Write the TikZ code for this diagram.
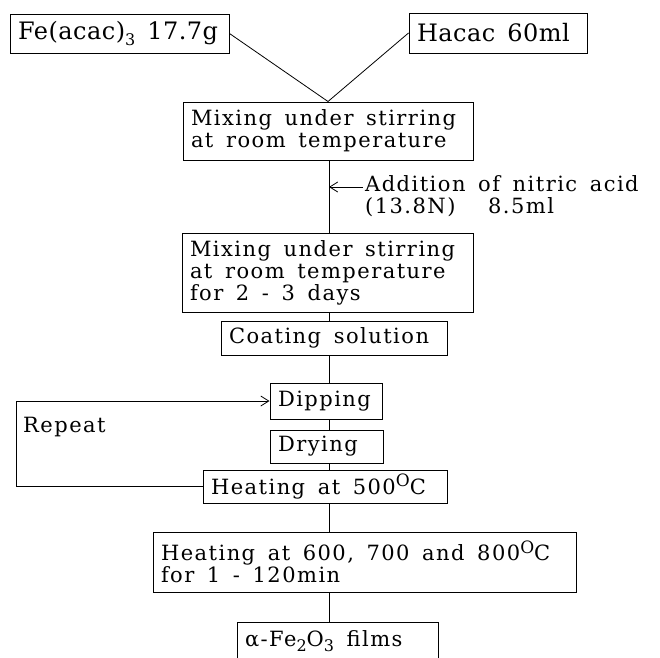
\documentclass[tikz,border=0pt]{standalone}
\usepackage{fontspec}
\usetikzlibrary{arrows.meta}
\newfontfamily\bodyfont{DejaVu Serif}[LetterSpace=7]
\newfontfamily\topfont{DejaVu Serif}[LetterSpace=2]
\newcommand{\supO}{\raisebox{0.7ex}{\fontsize{17}{17}\selectfont O}}
\newcommand{\subn}[1]{\raisebox{-0.45ex}{\fontsize{16}{16}\selectfont #1}}
\tikzset{
  box/.style={draw, line width=1pt, inner xsep=8pt, inner ysep=0pt, align=left,
    font=\bodyfont\fontsize{21}{22}\selectfont,
    execute at begin node={\spaceskip=0.6em\relax}},
  topbox/.style={box, font=\topfont\fontsize{24}{26}\selectfont,
    execute at begin node={\spaceskip=0.5em\relax}},
  conn/.style={line width=0.8pt},
  arr/.style={conn, -{Straight Barb[length=8pt,width=10pt,line width=0.8pt]}},
  lbl/.style={inner sep=0pt, align=left, font=\bodyfont\fontsize{21}{22}\selectfont,
    execute at begin node={\spaceskip=0.6em\relax}}
}
\begin{document}
\begin{tikzpicture}[x=1pt,y=1pt]
\useasboundingbox (0,0) rectangle (660,-657);
\coordinate (spine) at (329,0);
\coordinate (lp) at (16,0);
\coordinate (na) at (363,-187);

\node[topbox, text width=203, minimum height=39] (fe) at (119.5,-33.5) {Fe(acac)\subn{3} 17.7g};
\node[topbox, text width=162, minimum height=40] (hacac) at (498,-33) {Hacac 60ml};
\node[box, text width=274, minimum height=58] (mix1) at (328,-131) {Mixing under stirring\\at room temperature};
\node[box, text width=275, minimum height=79] (mix2) at (327.5,-272.5) {Mixing under stirring\\at room temperature\\for 2 - 3 days};
\node[box, text width=210, minimum height=34] (coat) at (334,-338) {Coating solution};
\node[box, text width=96, minimum height=36] (dip) at (326,-401) {Dipping};
\node[box, text width=97, minimum height=33] (dry) at (326.5,-446.5) {Drying};
\node[box, text width=228, minimum height=33] (heat5) at (325,-486.5) {Heating at 500\supO C};
\node[box, text width=407, minimum height=60] (heat6) at (364.5,-562) {Heating at 600, 700 and 800\supO C\\for 1 - 120min};
\node[box, text width=185, minimum height=38] (alpha) at (337.5,-641) {α-Fe\subn{2}O\subn{3} films};

\node[lbl, anchor=north west] (nitric) at (365,-175) {Addition of nitric acid\\(13.8N)\hspace{20pt} 8.5ml};
\node[lbl, anchor=base west] (rep) at (23,-432) {Repeat};

\draw[conn] (fe.east) -- (mix1.north);
\draw[conn] (hacac.west) -- (mix1.north);
\draw[conn] (mix1.south -| spine) -- (mix2.north -| spine);
\draw[arr] (na) -- (na -| spine);
\draw[conn] (mix2.south -| spine) -- (coat.north -| spine);
\draw[conn] (coat.south -| spine) -- (dip.north -| spine);
\draw[conn] (dip.south -| spine) -- (dry.north -| spine);
\draw[conn] (dry.south -| spine) -- (heat5.north -| spine);
\draw[conn] (heat5.south -| spine) -- (heat6.north -| spine);
\draw[conn] (heat6.south -| spine) -- (alpha.north -| spine);
\draw[arr] (heat5.west) -- (heat5.west -| lp) |- (dip.west);
\end{tikzpicture}
\end{document}
